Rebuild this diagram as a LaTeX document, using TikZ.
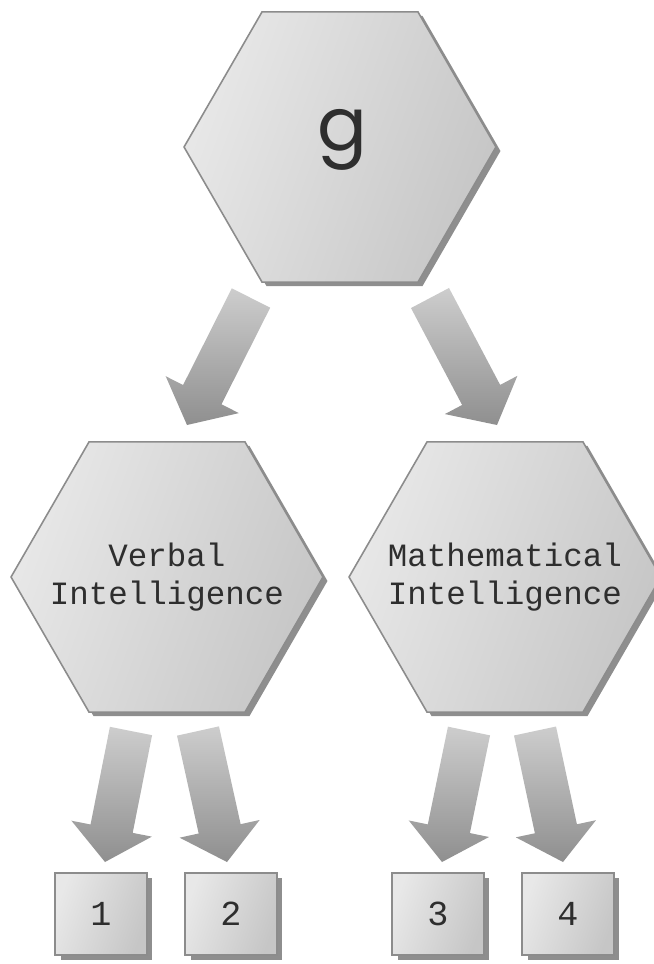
\documentclass[tikz,border=0pt]{standalone}
\usepackage{fontspec}
\setmonofont{Liberation Mono}
\newfontfamily\gfont{Poppins}
\usetikzlibrary{arrows,positioning,calc,shapes.geometric,shadows}

\definecolor{hexedge}{HTML}{8C8C8C}
\definecolor{hexlight}{HTML}{E8E8E8}
\definecolor{hexdark}{HTML}{C6C6C6}
\definecolor{shadowgray}{HTML}{8E8E8E}
\definecolor{arrowlight}{HTML}{CDCDCD}
\definecolor{arrowdark}{HTML}{8F8F8F}
\definecolor{textgray}{HTML}{2E2E2E}

\tikzset{
  hexa/.style={regular polygon, regular polygon sides=6, minimum size=6.24cm,
    inner sep=0pt, draw=hexedge, line width=0.9pt,
    left color=hexlight, right color=hexdark, shading angle=70,
    general shadow={fill=shadowgray, shadow xshift=0.09cm, shadow yshift=-0.08cm}},
  hextext/.style={align=center, inner sep=0pt, text=textgray,
    font=\ttfamily\fontsize{18.5}{21.5}\selectfont},
  numbox/.style={rectangle, minimum width=1.84cm, minimum height=1.64cm,
    inner sep=0pt, draw=hexedge, line width=0.9pt, text=textgray,
    left color=hexlight, right color=hexdark, shading angle=70,
    general shadow={fill=shadowgray, shadow xshift=0.11cm, shadow yshift=-0.1cm},
    font=\ttfamily\fontsize{20}{24}\selectfont},
  arrowshade/.style={top color=arrowlight, bottom color=arrowdark}
}

% block arrow from #1 (tail) to #2 (tip)
\newcommand{\bigarrow}[2]{%
  \coordinate (ba) at ($(#2)!0.68cm!(#1)$);
  \shade[arrowshade] ($(#1)!0.43cm!90:(#2)$) -- ($(ba)!0.43cm!90:(#2)$)
    -- ($(ba)!0.82cm!90:(#2)$) -- (#2) -- ($(ba)!0.82cm!-90:(#2)$)
    -- ($(ba)!0.43cm!-90:(#2)$) -- ($(#1)!0.43cm!-90:(#2)$) -- cycle;}

\begin{document}
\begin{tikzpicture}[x=0.02cm,y=-0.02cm]
\useasboundingbox (0,0) rectangle (653,964);

% Define the hexagons
\node[hexa] (g) at (340,147) {};
\node[hexa] (verbal) at (167,577) {};
\node[hexa] (math) at (505,577) {};
\node[hextext] (g-text) at (342,140) {\gfont\fontsize{42}{42}\selectfont g};
\node[hextext] (verbal-text) at (verbal) {Verbal\\Intelligence};
\node[hextext] (math-text) at (math) {Mathematical\\Intelligence};

% Define the boxes
\node[numbox] (b1) at (101,914) {1};
\node[numbox] (b2) at (231,914) {2};
\node[numbox] (b3) at (438,914) {3};
\node[numbox] (b4) at (568,914) {4};

% Arrow ends
\coordinate (tail-gv) at (251,298);
\coordinate (tip-gv) at (187,425);
\coordinate (tail-gm) at (430,298);
\coordinate (tip-gm) at (497,425);
\coordinate (tail-v1) at (131,731);
\coordinate (tip-v1) at (105,862);
\coordinate (tail-v2) at (198,731);
\coordinate (tip-v2) at (227,862);
\coordinate (tail-m3) at (469,731);
\coordinate (tip-m3) at (442,862);
\coordinate (tail-m4) at (535,731);
\coordinate (tip-m4) at (563,862);

% Draw the arrows
\bigarrow{tail-gv}{tip-gv}
\bigarrow{tail-gm}{tip-gm}
\bigarrow{tail-v1}{tip-v1}
\bigarrow{tail-v2}{tip-v2}
\bigarrow{tail-m3}{tip-m3}
\bigarrow{tail-m4}{tip-m4}
\end{tikzpicture}
\end{document}
